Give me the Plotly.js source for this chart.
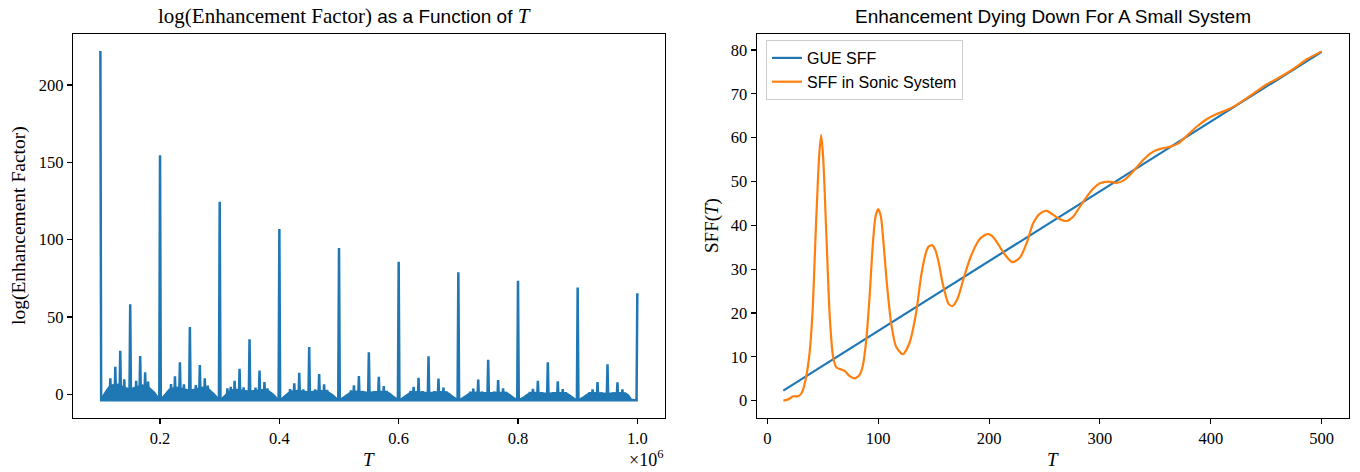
<!DOCTYPE html>
<html>
<head>
<meta charset="utf-8">
<script src="https://cdn.plot.ly/plotly-3.0.1.min.js"></script>
<style>html,body{margin:0;padding:0;background:#fff;}#chart{width:1360px;height:472px;}</style>
</head>
<body>
<div id="chart"></div>
<script>
// ---------- Left panel data (T in units of 10^6) ----------
const majorT = [0.1, 0.2, 0.3, 0.4, 0.5, 0.6, 0.7, 0.8, 0.9, 1.0];
const majorH = [222.0, 154.6, 124.6, 106.9, 94.6, 85.8, 78.9, 73.5, 69.0, 65.3];
const halfT = [0.15, 0.25, 0.35, 0.45, 0.55, 0.65, 0.75, 0.85, 0.95];
const halfH = [58.2, 43.5, 35.6, 30.6, 27.2, 24.6, 22.4, 20.7, 19.4];
const thirdT = [0.1333, 0.1667, 0.2333, 0.2667, 0.3333, 0.3667, 0.4333, 0.4667, 0.5333, 0.5667,
                0.6333, 0.6667, 0.7333, 0.7667, 0.8333, 0.8667, 0.9333, 0.9667];
const thirdH = [28.2, 24.8, 20.7, 19.0, 16.5, 15.4, 14.0, 13.2, 11.9, 11.4,
                10.7, 10.2, 9.6, 9.2, 8.8, 8.4, 8.0, 7.8];
const quarterT = [0.125, 0.175, 0.225, 0.275, 0.325, 0.375, 0.425, 0.475, 0.525, 0.575,
                  0.625, 0.675, 0.725, 0.775, 0.825, 0.875, 0.925, 0.975];
const quarterH = [17.9, 14.2, 11.6, 10.3, 8.8, 8.0, 7.1, 6.5, 5.8, 5.4,
                  4.9, 4.3, 3.8, 3.9, 3.6, 3.4, 3.2, 3.2];
const minorT = [0.1167, 0.14, 0.16, 0.18, 0.2184, 0.24, 0.26, 0.28, 0.3129, 0.3185, 0.34, 0.36, 0.38,
                0.418, 0.44, 0.46, 0.48, 0.52, 0.54, 0.56, 0.58, 0.62, 0.64, 0.66, 0.68,
                0.72, 0.74, 0.76, 0.78, 0.82, 0.84, 0.86, 0.88, 0.92, 0.94, 0.96];
const minorH = [10.3, 9.7, 8.8, 8.2, 6.7, 6.5, 6.0, 5.6, 3.9, 4.9, 4.5, 4.3, 3.9,
                3.4, 3.2, 3.2, 2.9, 2.6, 2.3, 2.0, 2.2, 2.3, 2.1, 2.1, 2.0,
                1.8, 1.7, 1.7, 1.6, 1.6, 1.5, 1.5, 1.4, 1.4, 1.3, 1.3, 1.2];
// dense oscillation "cloud": upper envelope per segment at these offsets within each 0.1 segment
const segStart = [0.1, 0.2, 0.3, 0.4, 0.5, 0.6, 0.7, 0.8, 0.9];
const cloudOffsets = [0, 0.005, 0.01, 0.015, 0.02, 0.03, 0.04, 0.05, 0.06, 0.07, 0.08, 0.085, 0.09, 0.095, 0.1];
const cloudTop = [
  [-3.8, -0.5, 2.5, 5.0, 6.0, 6.5, 4.5, 3.5, 4.5, 6.0, 5.0, 3.5, 1.5, -1.0, -3.8],
  [-3.8, -1.5, 1.0, 3.0, 4.0, 4.5, 3.5, 2.5, 3.5, 4.5, 4.0, 2.5, 0.5, -1.5, -3.8],
  [-3.8, -2.0, 0.0, 1.5, 2.8, 3.2, 2.5, 2.0, 2.5, 3.0, 2.8, 1.5, 0.0, -2.0, -3.8],
  [-3.8, -2.3, -0.5, 1.0, 2.0, 2.5, 2.0, 1.5, 2.0, 2.3, 2.0, 1.0, -0.5, -2.3, -3.8],
  [-3.8, -2.5, -1.0, 0.5, 1.5, 2.0, 1.6, 1.2, 1.6, 1.9, 1.6, 0.6, -1.0, -2.5, -3.8],
  [-3.8, -2.6, -1.2, 0.3, 1.3, 1.7, 1.4, 1.0, 1.4, 1.7, 1.4, 0.4, -1.2, -2.6, -3.8],
  [-3.8, -2.7, -1.4, 0.0, 1.0, 1.4, 1.2, 0.8, 1.2, 1.4, 1.2, 0.2, -1.4, -2.7, -3.8],
  [-3.8, -2.8, -1.6, -0.2, 0.8, 1.2, 1.0, 0.6, 1.0, 1.2, 1.0, 0.0, -1.6, -2.8, -3.8],
  [-3.8, -2.8, -1.6, -0.2, 0.8, 1.1, 0.9, 0.6, 0.9, 1.1, 0.8, -0.5, -3.2, -3.6, -3.8]
];
const baseLevel = -3.8;
const leftXTicks = [0.2, 0.4, 0.6, 0.8, 1.0];
const leftYTicks = [0, 50, 100, 150, 200];

// ---------- Right panel data ----------
const gueT = [14.4, 500];
const gueSFF = [2.3, 79.6];
const sonicT = [14.4, 18.9, 23.4, 27.8, 30.8, 33.8, 37.7, 40.7, 43.7, 46.7, 48.5, 50.3, 53.3, 56.3, 59.3, 62.3,
  66.8, 69.8, 74.3, 78.7, 83.2, 86.2, 89.2, 92.2, 95.2, 97.6, 100.0, 102.4, 104.8, 107.8, 111.7, 116.2,
  122.2, 128.1, 134.1, 138.6, 142.0, 145.0, 148.5, 151.5, 154.5, 158.1, 163.5, 167.1, 171.6, 177.5, 183.5, 191.0,
  195.5, 199.4, 203.0, 206.5, 213.5, 221.0, 228.0, 233.8, 239.8, 245.9, 251.9, 257.9, 263.9, 269.9, 275.9, 282.0,
  288.0, 294.0, 300.0, 307.5, 315.0, 321.0, 327.0, 333.0, 339.0, 345.0, 351.0, 357.0, 363.0, 370.7,
  378.2, 387.2, 396.2, 405.3, 414.3, 423.3, 432.3, 441.4, 450.4, 459.4, 468.4, 477.4, 486.5, 500.0];
const sonicSFF = [0.0, 0.3, 1.0, 1.0, 1.7, 4.0, 10.0, 19.9, 38.9, 55.7, 60.6, 55.7, 37.4, 19.2, 10.0, 7.6,
  7.1, 6.8, 5.6, 5.1, 5.9, 8.1, 13.8, 23.7, 35.9, 42.0, 43.7, 42.0, 35.9, 26.8, 17.6, 12.3,
  10.6, 13.1, 19.9, 28.3, 32.8, 35.0, 35.5, 34.4, 31.6, 26.8, 22.1, 21.6, 23.3, 28.3, 32.9, 36.7,
  37.7, 38.0, 37.5, 36.4, 33.6, 31.6, 32.7, 35.9, 40.5, 42.7, 43.3, 42.4, 41.4, 41.0, 42.0, 44.3,
  46.5, 48.4, 49.6, 50.0, 49.7, 50.2, 51.5, 53.2, 54.9, 56.3, 57.2, 57.6, 57.9, 58.7,
  60.4, 62.5, 64.2, 65.4, 66.3, 67.5, 69.0, 70.6, 72.2, 73.4, 74.7, 76.2, 77.9, 79.7];
const rightXTicks = [0, 100, 200, 300, 400, 500];
const rightYTicks = [0, 10, 20, 30, 40, 50, 60, 70, 80];

// ---------- Build left traces ----------
const blue = '#1f77b4', orange = '#ff7f0e';
const cloudX = [], cloudY = [];
segStart.forEach((s, i) => {
  cloudOffsets.forEach((o, j) => { cloudX.push(s + o); cloudY.push(cloudTop[i][j]); });
});
const spikes = [];
[[majorT, majorH], [halfT, halfH], [thirdT, thirdH], [quarterT, quarterH], [minorT, minorH]].forEach(([ts, hs]) => {
  ts.forEach((t, i) => spikes.push([t, hs[i]]));
});
spikes.sort((a, b) => a[0] - b[0]);
const w = 0.0013;
const spikeX = [], spikeY = [];
spikes.forEach((p, i) => {
  if (i > 0) { spikeX.push(p[0] - w); spikeY.push(baseLevel); }
  spikeX.push(p[0]); spikeY.push(p[1]);
  if (i < spikes.length - 1) { spikeX.push(p[0] + w); spikeY.push(baseLevel); }
});

const serif = 'Liberation Serif, Times New Roman, serif';
const sans = 'Liberation Sans, Arial, sans-serif';
const tickFont = {family: serif, size: 16.5, color: '#000'};

const traces = [
  {x: [segStart[0], segStart[segStart.length - 1] + 0.1], y: [baseLevel, baseLevel], mode: 'lines',
   line: {color: blue, width: 1.5}, xaxis: 'x', yaxis: 'y', showlegend: false, hoverinfo: 'skip'},
  {x: cloudX, y: cloudY, mode: 'lines', fill: 'tonexty', fillcolor: blue,
   line: {color: blue, width: 1.5}, xaxis: 'x', yaxis: 'y', showlegend: false},
  {x: spikeX, y: spikeY, mode: 'lines', line: {color: blue, width: 2.5},
   xaxis: 'x', yaxis: 'y', showlegend: false},
  {x: gueT, y: gueSFF, mode: 'lines', name: 'GUE SFF', line: {color: blue, width: 2.2},
   xaxis: 'x2', yaxis: 'y2'},
  {x: sonicT, y: sonicSFF, mode: 'lines', name: 'SFF in Sonic System',
   line: {color: orange, width: 2.2, shape: 'spline', smoothing: 0.7}, xaxis: 'x2', yaxis: 'y2'}
];

const axBase = {
  showline: true, mirror: true, linecolor: '#000', linewidth: 1.1,
  ticks: 'outside', ticklen: 5, tickwidth: 1.1, tickcolor: '#000',
  showgrid: false, zeroline: false, tickfont: tickFont, automargin: false
};
const H = 472, W = 1360;
const yDom = [1 - 418 / H, 1 - 34 / H];
const layout = {
  width: W, height: H,
  margin: {l: 0, r: 0, t: 0, b: 0},
  paper_bgcolor: '#fff', plot_bgcolor: '#fff',
  showlegend: true,
  xaxis: Object.assign({}, axBase, {domain: [73 / W, 665 / W], range: [0.0541, 1.0464],
    tickmode: 'array', tickvals: leftXTicks, ticktext: leftXTicks.map(v => v.toFixed(1)), anchor: 'y'}),
  yaxis: Object.assign({}, axBase, {domain: yDom, range: [-15.3, 233.0],
    tickmode: 'array', tickvals: leftYTicks, ticktext: leftYTicks.map(String), anchor: 'x'}),
  xaxis2: Object.assign({}, axBase, {domain: [756.7 / W, 1349.3 / W], range: [-9.6, 524.9],
    tickmode: 'array', tickvals: rightXTicks, ticktext: rightXTicks.map(String), anchor: 'y2'}),
  yaxis2: Object.assign({}, axBase, {domain: yDom, range: [-3.95, 83.66],
    tickmode: 'array', tickvals: rightYTicks, ticktext: rightYTicks.map(String), anchor: 'x2'}),
  legend: {x: 766 / W, y: 1 - 40 / H, xanchor: 'left', yanchor: 'top', traceorder: 'normal',
    bgcolor: 'rgba(255,255,255,0.8)', bordercolor: '#cccccc', borderwidth: 1,
    font: {family: sans, size: 16, color: '#000'}},
  annotations: [
    {text: 'log(Enhancement Factor) <span style="font-family:' + sans + ';font-size:19px">as a Function of</span> <i>T</i>',
     xref: 'paper', yref: 'paper', x: 344 / W, y: 1 - 16 / H, xanchor: 'center', yanchor: 'middle',
     showarrow: false, font: {family: serif, size: 21, color: '#000'}},
    {text: 'Enhancement Dying Down For A Small System',
     xref: 'paper', yref: 'paper', x: 1053 / W, y: 1 - 16 / H, xanchor: 'center', yanchor: 'middle',
     showarrow: false, font: {family: sans, size: 19, color: '#000'}},
    {text: '<i>T</i>', xref: 'paper', yref: 'paper', x: 369 / W, y: 1 - 459 / H, xanchor: 'center', yanchor: 'middle',
     showarrow: false, font: {family: serif, size: 19, color: '#000'}},
    {text: '<i>T</i>', xref: 'paper', yref: 'paper', x: 1053 / W, y: 1 - 459 / H, xanchor: 'center', yanchor: 'middle',
     showarrow: false, font: {family: serif, size: 19, color: '#000'}},
    {text: 'log(Enhancement Factor)', xref: 'paper', yref: 'paper', x: 19 / W, y: 1 - 226 / H,
     xanchor: 'center', yanchor: 'middle', textangle: -90, showarrow: false,
     font: {family: serif, size: 19.5, color: '#000'}},
    {text: 'SFF(<i>T</i>)', xref: 'paper', yref: 'paper', x: 712 / W, y: 1 - 226 / H,
     xanchor: 'center', yanchor: 'middle', textangle: -90, showarrow: false,
     font: {family: serif, size: 19, color: '#000'}},
    {text: '×10<sup>6</sup>', xref: 'paper', yref: 'paper', x: 646 / W, y: 1 - 458 / H,
     xanchor: 'center', yanchor: 'middle', showarrow: false,
     font: {family: serif, size: 18, color: '#000'}}
  ]
};
Plotly.newPlot('chart', traces, layout, {staticPlot: true, displayModeBar: false});
</script>
</body>
</html>
